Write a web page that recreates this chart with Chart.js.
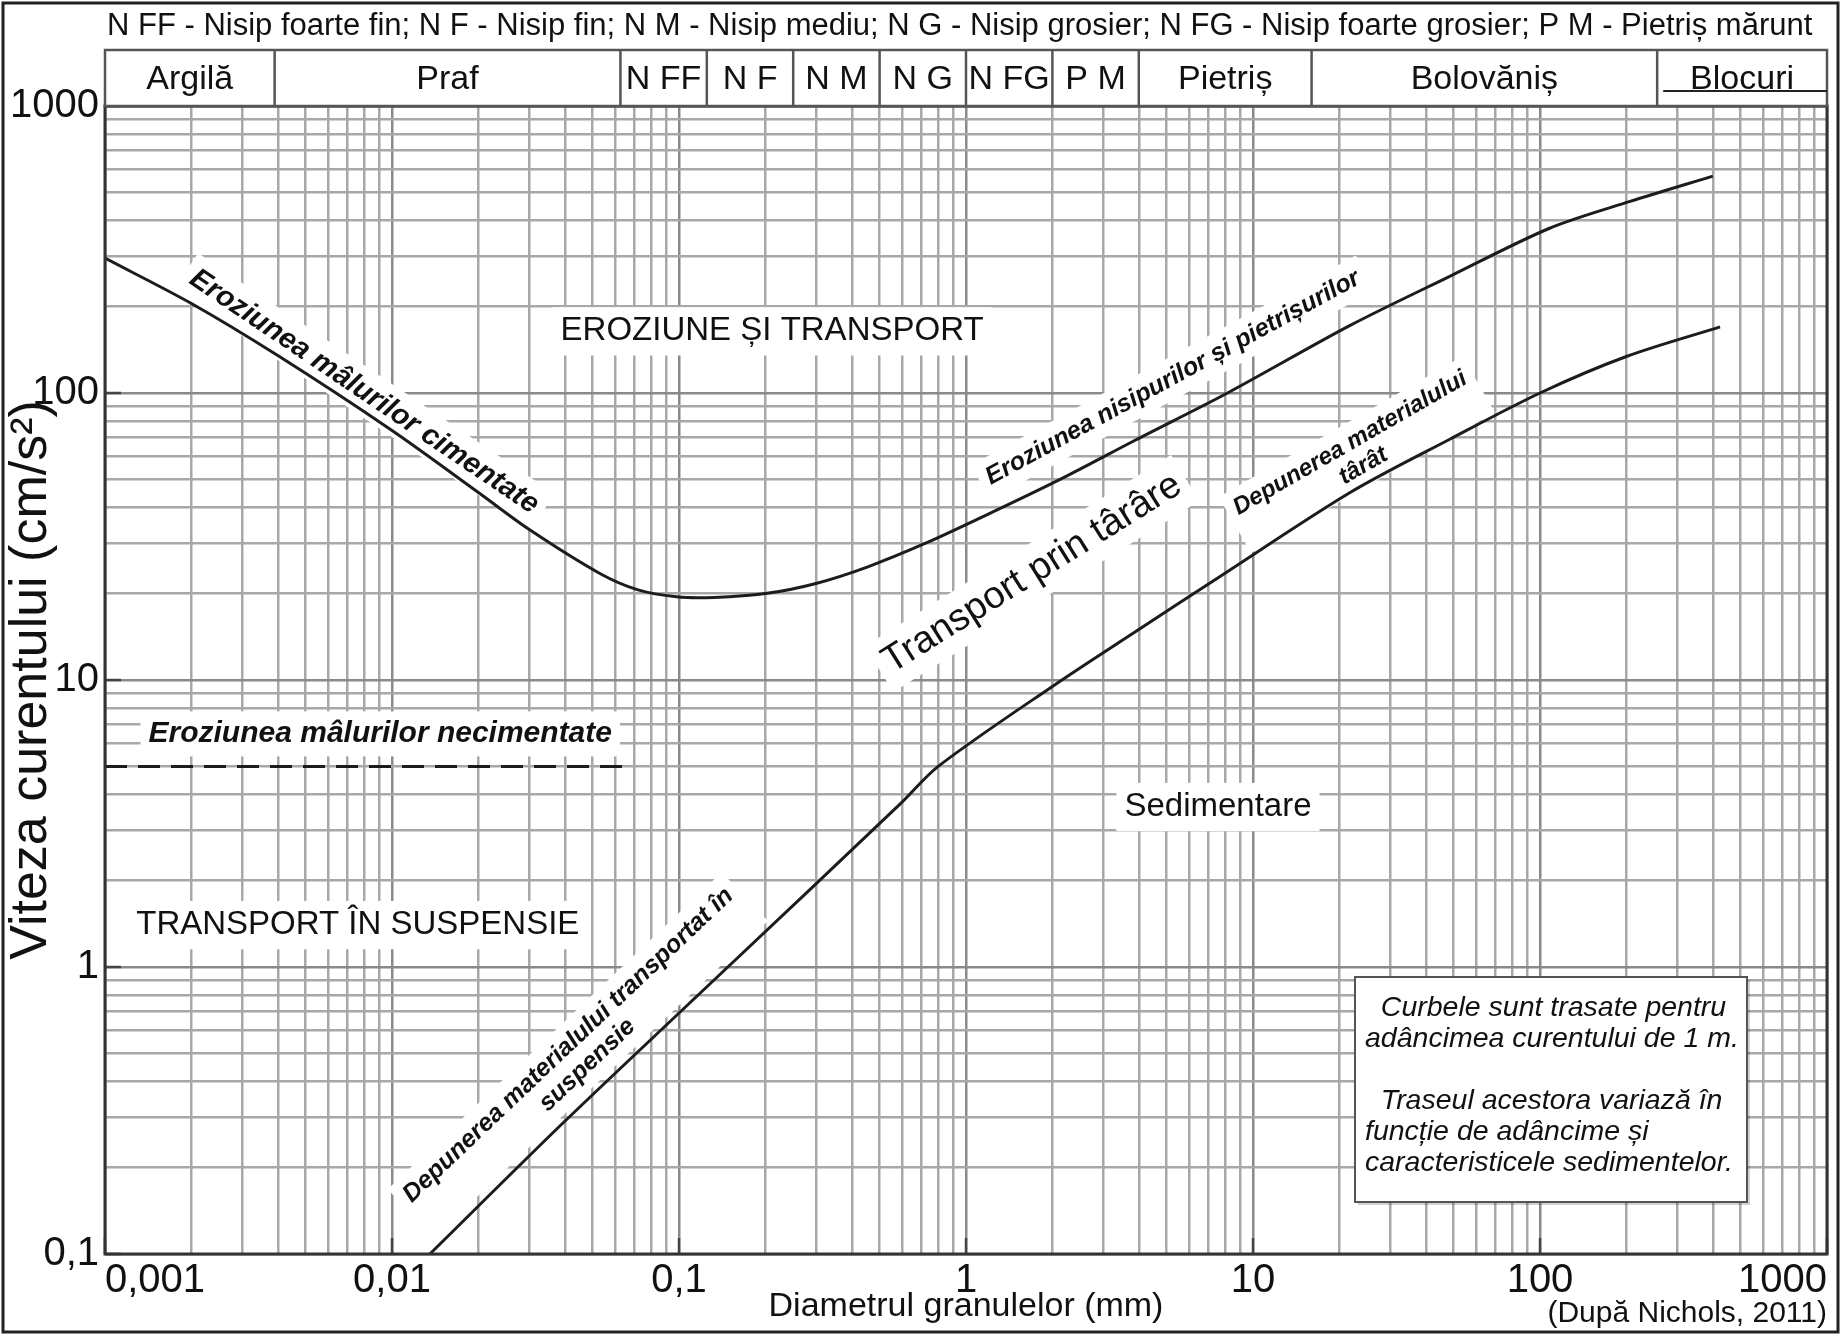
<!DOCTYPE html>
<html>
<head>
<meta charset="utf-8">
<script src="https://cdn.jsdelivr.net/npm/chart.js@4.4.1/dist/chart.umd.min.js"></script>
<style>
  html, body { margin: 0; padding: 0; background: #fff; }
  canvas { display: block; }
</style>
</head>
<body>
<canvas id="chart" width="1841" height="1335"></canvas>
<script>
const FONT = "'Liberation Sans', Arial, Helvetica, sans-serif";

// grain diameter (mm) / current velocity (cm/s)
const erosionD = [0.001, 0.002, 0.004, 0.01, 0.02, 0.03, 0.053, 0.072, 0.098, 0.133, 0.2, 0.3, 0.455, 0.72, 1.14, 2.11, 3.9, 8.15, 21.8, 48.5, 108, 206, 400];
const erosionV = [295, 205, 135, 74, 45, 33.5, 23.5, 20.6, 19.5, 19.4, 20.0, 21.7, 24.8, 29.9, 37, 49.8, 68.6, 100, 172, 255, 375, 465, 570];

const depositD = [0.01355, 0.04, 0.148, 0.59, 0.8, 2.0, 4.0, 7.7, 21.8, 48.5, 100, 200, 424];
const depositV = [0.1, 0.29, 1, 3.7, 5.0, 9.5, 15, 23, 45, 69, 100, 134, 170];

const looseMudD = [0.001, 0.064];
const looseMudV = [5, 5];

const xTickValues = [0.001, 0.01, 0.1, 1, 10, 100, 1000];
const xTickLabels = ['0,001', '0,01', '0,1', '1', '10', '100', '1000'];
const yTickValues = [0.1, 1, 10, 100, 1000];
const yTickLabels = ['0,1', '1', '10', '100', '1000'];

// grain size classes along the top band
const classBounds = [0.001, 0.0039, 0.0625, 0.125, 0.25, 0.5, 1, 2, 4, 16, 256, 1000];
const classNames = ['Argilă', 'Praf', 'N FF', 'N F', 'N M', 'N G', 'N FG', 'P M', 'Pietriș', 'Bolovăniș', 'Blocuri'];

const headerNote = 'N FF - Nisip foarte fin; N F - Nisip fin; N M - Nisip mediu; N G - Nisip grosier; N FG - Nisip foarte grosier; P M - Pietriș mărunt';
const boxLines = ['  Curbele sunt trasate pentru', 'adâncimea curentului de 1 m.', '', '  Traseul acestora variază în', 'funcție de adâncime și', 'caracteristicele sedimentelor.'];

// labels inside the plot, anchored at (diameter, velocity)
const notes = [
  { lines: ['EROZIUNE ȘI TRANSPORT'], d: 0.211, v: 164, angle: 0, size: 33, style: '' },
  { lines: ['Eroziunea mâlurilor cimentate'], d: 0.0080, v: 101, angle: 34, size: 29, style: 'italic bold' },
  { lines: ['Eroziunea nisipurilor și pietrișurilor'], d: 5.26, v: 113, angle: -28.6, size: 25, style: 'italic bold' },
  { lines: ['Transport prin târâre'], d: 1.7, v: 23.5, angle: -32, size: 38, style: '' },
  { lines: ['Depunerea materialului', 'târât'], d: 23.0, v: 61, angle: -30, size: 24, style: 'italic bold' },
  { lines: ['Eroziunea mâlurilor necimentate'], d: 0.0091, v: 6.49, angle: 0, size: 30, style: 'italic bold' },
  { lines: ['TRANSPORT ÎN SUSPENSIE'], d: 0.0076, v: 1.40, angle: 0, size: 33, style: '' },
  { lines: ['Sedimentare'], d: 7.55, v: 3.61, angle: 0, size: 33, style: '' },
  { lines: ['Depunerea materialului transportat în', 'suspensie'], d: 0.0444, v: 0.493, angle: -43.5, size: 25, style: 'italic bold' },
];

const toPoints = (xs, ys) => xs.map((x, i) => ({ x: x, y: ys[i] }));

const isDecade = (v) => Math.abs(Math.log10(v) - Math.round(Math.log10(v))) < 1e-9;

const logGrid = (min, max) => {
  const ticks = [];
  for (let e = Math.round(Math.log10(min)); e < Math.round(Math.log10(max)); e++) {
    for (let m = 1; m < 10; m++) {
      ticks.push({ value: parseFloat((m * Math.pow(10, e)).toPrecision(6)) });
    }
  }
  ticks.push({ value: max });
  return ticks;
};

const labelFor = (values, labels) => (value) => {
  const i = values.findIndex((t) => Math.abs(t - value) / t < 1e-6);
  return i >= 0 ? labels[i] : '';
};

function drawNote(chart, n, background) {
  const { ctx, scales: { x, y } } = chart;
  ctx.save();
  ctx.translate(x.getPixelForValue(n.d), y.getPixelForValue(n.v));
  ctx.rotate((n.angle * Math.PI) / 180);
  ctx.font = `${n.style} ${n.size}px ${FONT}`;
  const lh = n.size * 1.1;
  const w = Math.max(...n.lines.map((l) => ctx.measureText(l).width));
  const h = lh * n.lines.length;
  if (background) {
    ctx.fillStyle = '#fff';
    ctx.fillRect(-w / 2 - 8, -h / 2 - 6, w + 16, h + 12);
  } else {
    ctx.fillStyle = '#111';
    ctx.textAlign = 'center';
    ctx.textBaseline = 'middle';
    n.lines.forEach((l, i) => ctx.fillText(l, 0, -h / 2 + lh * (i + 0.5)));
  }
  ctx.restore();
}

function drawDecor(chart) {
  const { ctx, chartArea: a, scales: { x, y } } = chart;
  ctx.save();

  // short dark marks at the decades, inside the frame
  ctx.strokeStyle = '#444';
  ctx.lineWidth = 2.5;
  xTickValues.forEach((v) => {
    const px = x.getPixelForValue(v);
    ctx.beginPath();
    ctx.moveTo(px, a.bottom);
    ctx.lineTo(px, a.bottom - 16);
    ctx.stroke();
  });
  yTickValues.forEach((v) => {
    const py = y.getPixelForValue(v);
    ctx.beginPath();
    ctx.moveTo(a.left, py);
    ctx.lineTo(a.left + 16, py);
    ctx.stroke();
  });

  // outer frame
  ctx.strokeStyle = '#222';
  ctx.lineWidth = 3;
  ctx.strokeRect(3, 3, chart.width - 6, chart.height - 6);

  // plot frame
  ctx.strokeStyle = '#333';
  ctx.lineWidth = 3;
  ctx.strokeRect(a.left, a.top, a.right - a.left, a.bottom - a.top);

  // size class band
  const hTop = a.top - 56;
  ctx.fillStyle = '#fff';
  ctx.fillRect(a.left, hTop, a.right - a.left, 56);
  ctx.strokeStyle = '#555';
  ctx.lineWidth = 2.5;
  ctx.strokeRect(a.left, hTop, a.right - a.left, 56);
  ctx.fillStyle = '#111';
  ctx.font = `34px ${FONT}`;
  ctx.textAlign = 'center';
  ctx.textBaseline = 'middle';
  for (let i = 0; i < classNames.length; i++) {
    const xl = x.getPixelForValue(classBounds[i]);
    const xr = x.getPixelForValue(classBounds[i + 1]);
    if (i > 0) {
      ctx.beginPath();
      ctx.moveTo(xl, hTop);
      ctx.lineTo(xl, a.top);
      ctx.stroke();
    }
    ctx.fillText(classNames[i], (xl + xr) / 2, hTop + 30);
  }
  // underline of the last cell
  const lastL = x.getPixelForValue(classBounds[classBounds.length - 2]);
  ctx.strokeStyle = '#222';
  ctx.lineWidth = 2;
  ctx.beginPath();
  ctx.moveTo(lastL + 6, hTop + 41);
  ctx.lineTo(a.right, hTop + 41);
  ctx.stroke();

  // note above the band
  ctx.font = `31px ${FONT}`;
  ctx.textAlign = 'left';
  ctx.fillText(headerNote, a.left + 2, 26);

  // source
  ctx.font = `30px ${FONT}`;
  ctx.textAlign = 'right';
  ctx.fillText('(După Nichols, 2011)', a.right, a.bottom + 60);

  // info box
  const bx = a.right - 472, by = a.bottom - 277, bw = 392, bh = 225;
  ctx.fillStyle = 'rgba(0,0,0,0.18)';
  ctx.fillRect(bx + 3, by + 3, bw, bh);
  ctx.fillStyle = '#fff';
  ctx.fillRect(bx, by, bw, bh);
  ctx.strokeStyle = '#555';
  ctx.lineWidth = 2;
  ctx.strokeRect(bx, by, bw, bh);
  ctx.fillStyle = '#111';
  ctx.font = `italic 28.5px ${FONT}`;
  ctx.textAlign = 'left';
  boxLines.forEach((l, i) => ctx.fillText(l, bx + 10, by + 31 + i * 31));

  ctx.restore();
}

const decorPlugin = {
  id: 'decor',
  beforeDatasetsDraw(chart) {
    notes.forEach((n) => drawNote(chart, n, true));
  },
  afterDatasetsDraw(chart) {
    notes.forEach((n) => drawNote(chart, n, false));
  },
  afterDraw(chart) {
    drawDecor(chart);
  },
};

const lineStyle = {
  showLine: true,
  pointRadius: 0,
  borderColor: '#1c1c1c',
  borderWidth: 3,
  fill: false,
};

const gridStyle = {
  color: (ctx) => (ctx.tick && isDecade(ctx.tick.value) ? '#8a8a8a' : '#a8a8a8'),
  lineWidth: 2.5,
  drawTicks: false,
};

new Chart(document.getElementById('chart'), {
  type: 'scatter',
  data: {
    datasets: [
      { label: 'Eroziune', data: toPoints(erosionD, erosionV), tension: 0.3, ...lineStyle },
      { label: 'Depunere', data: toPoints(depositD, depositV), tension: 0.3, ...lineStyle },
      { label: 'Mâluri necimentate', data: toPoints(looseMudD, looseMudV), borderDash: [22, 11], ...lineStyle },
    ],
  },
  options: {
    responsive: false,
    animation: false,
    devicePixelRatio: 1,
    layout: { padding: { top: 106, right: 14, left: 0, bottom: 0 } },
    plugins: {
      legend: { display: false },
      tooltip: { enabled: false },
    },
    scales: {
      x: {
        type: 'logarithmic',
        min: 0.001,
        max: 1000,
        afterBuildTicks: (scale) => { scale.ticks = logGrid(0.001, 1000); },
        afterFit: (scale) => { scale.height = 81; },
        border: { display: false },
        grid: gridStyle,
        ticks: {
          autoSkip: false,
          maxRotation: 0,
          align: 'inner',
          padding: 3,
          color: '#111',
          font: { family: FONT, size: 40 },
          callback: labelFor(xTickValues, xTickLabels),
        },
        title: {
          display: true,
          text: 'Diametrul granulelor (mm)',
          color: '#111',
          font: { family: FONT, size: 34 },
          padding: { top: 0, bottom: 8 },
        },
      },
      y: {
        type: 'logarithmic',
        min: 0.1,
        max: 1000,
        afterBuildTicks: (scale) => { scale.ticks = logGrid(0.1, 1000); },
        afterFit: (scale) => { scale.width = 105; },
        border: { display: false },
        grid: gridStyle,
        ticks: {
          autoSkip: false,
          padding: 6,
          color: '#111',
          font: { family: FONT, size: 40 },
          callback: labelFor(yTickValues, yTickLabels),
        },
        title: {
          display: true,
          text: 'Viteza curentului (cm/s²)',
          color: '#111',
          font: { family: FONT, size: 52 },
          padding: { top: 0, bottom: 0 },
        },
      },
    },
  },
  plugins: [decorPlugin],
});
</script>
</body>
</html>
